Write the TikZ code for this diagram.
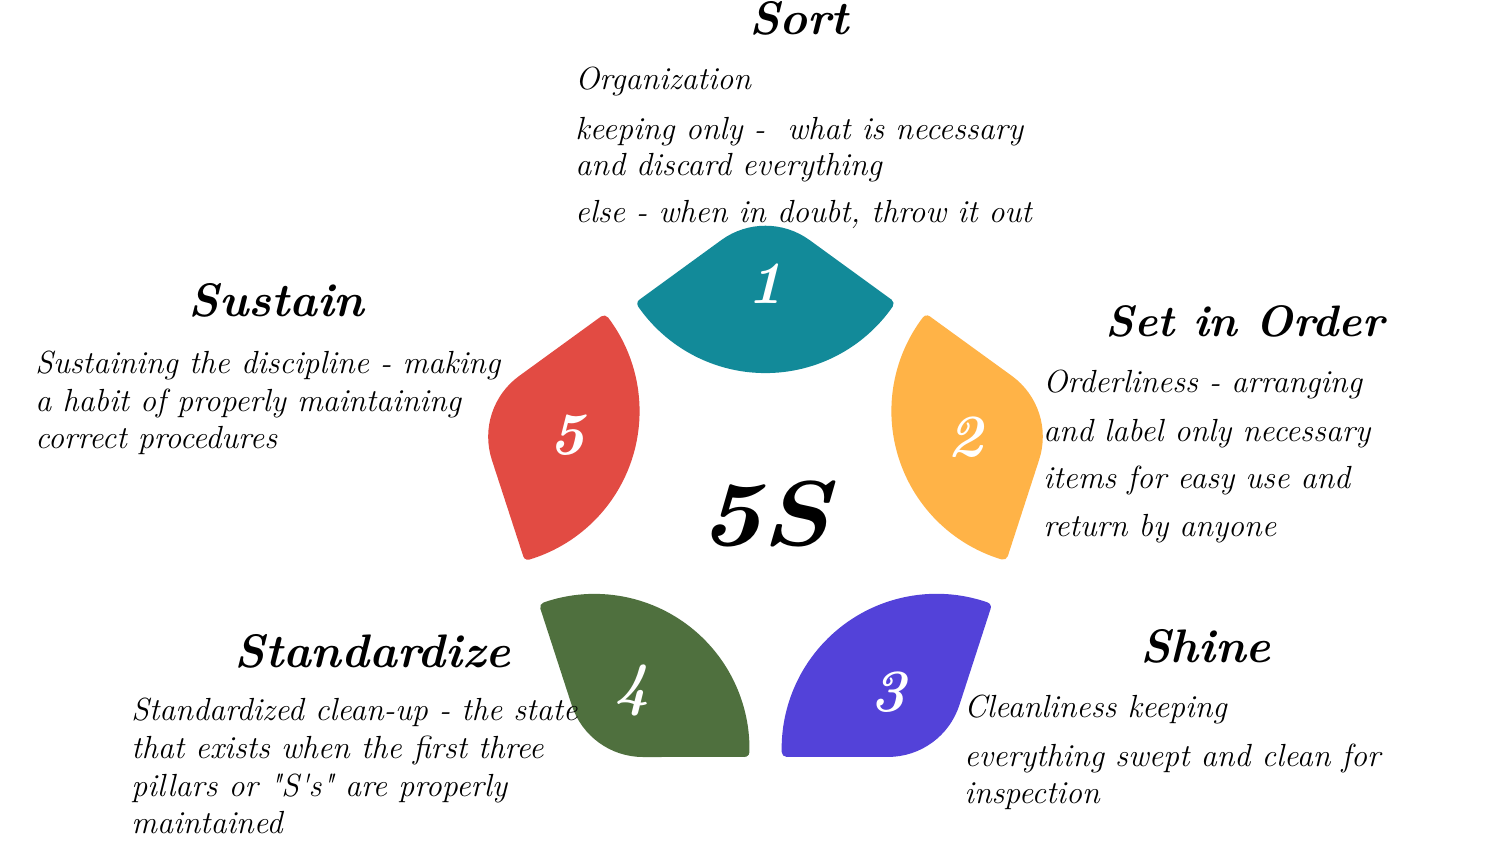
\documentclass[tikz,border=0pt]{standalone}
\usepackage{fontspec}
\usetikzlibrary{calc}
\definecolor{pteal}{RGB}{18,138,153}
\definecolor{porange}{RGB}{255,179,71}
\definecolor{ppurple}{RGB}{83,66,217}
\definecolor{pgreen}{RGB}{79,112,62}
\definecolor{pred}{RGB}{226,75,67}
\newcommand\sdq{\XeTeXglyph\XeTeXglyphindex "quotedbl"\relax}
\newcommand\ssq{\XeTeXglyph\XeTeXglyphindex "quotesingle"\relax}
\tikzset{
  body/.style={anchor=base west, inner sep=0pt, font=\fontsize{16}{19}\selectfont\itshape},
  ttl/.style={anchor=base, inner sep=0pt, font=\fontsize{23.5}{28}\selectfont\bfseries\itshape},
  digit/.style={inner sep=0pt, text=white, font=\fontsize{30}{30}\selectfont\bfseries\itshape},
  petal/.style={fill=#1, draw=#1, line width=5pt, line join=round}
}
\begin{document}
\begin{tikzpicture}[x=0.5pt,y=0.5pt]
\useasboundingbox (0,0) rectangle (1487,841);
\fill[white] (0,0) rectangle (1487,841);
\foreach \vx/\vy/\rot/\c in {765.5/633/0/pteal, 1056/433/-72/porange, 942.5/84/-144/ppurple, 588.5/84/144/pgreen, 475/433/72/pred}{
  \begin{scope}[shift={(\vx,\vy)}, rotate=\rot]
    \filldraw[petal=\c] (-123.1,-95.7) -- (-41.2,-36.1)
      arc[start angle=126, end angle=54, radius=70]
      -- (123.1,-95.7)
      arc[start angle=-34.8, end angle=-145.2, radius=150] -- cycle;
  \end{scope}
}
% numbers
\node[digit] (n1) at (765,557) {1};
\node[digit] (n2) at (965,404) {2};
\node[digit] (n3) at (888,149) {3};
\node[digit] (n4) at (632,151) {4};
\node[digit] (n5) at (567,406) {5};
\node[inner sep=0pt, font=\fontsize{46}{46}\selectfont\bfseries\itshape] (fives) at (765,327) {\scalebox{1.15}[1]{5S}};
% titles
\node[ttl] (tsort) at (799,806) {Sort};
\node[ttl, font=\fontsize{22}{26}\selectfont\bfseries\itshape] (tset) at (1245,504) {Set in Order};
\node[ttl] (tshine) at (1205.5,179) {Shine};
\node[ttl] (tstd) at (372.5,174) {Standardize};
\node[ttl] (tsus) at (276.5,524) {Sustain};
% Sort
\node[body] (s1) at (575,751) {Organization};
\node[body] (s2) at (575,701) {keeping only -~ what is necessary};
\node[body] (s3) at (575,665) {and discard everything};
\node[body] (s4) at (575,618) {else - when in doubt, throw it out};
% Set in Order
\node[body] (o1) at (1043,448) {Orderliness - arranging};
\node[body] (o2) at (1043,399) {and label only necessary};
\node[body] (o3) at (1043,352) {items for easy use and};
\node[body] (o4) at (1043,304) {return by anyone};
% Shine
\node[body] (h1) at (964,124) {Cleanliness keeping};
\node[body] (h2) at (964,75) {everything swept and clean for};
\node[body] (h3) at (964,38) {inspection};
% Standardize
\node[body] (d1) at (131,121) {Standardized clean-up - the state};
\node[body] (d2) at (131,83) {that exists when the first three};
\node[body] (d3) at (131,45) {pillars or \sdq S\ssq s\sdq{} are properly};
\node[body] (d4) at (131,8) {maintained};
% Sustain
\node[body] (u1) at (35,467) {Sustaining the discipline - making};
\node[body] (u2) at (35,429) {a habit of properly maintaining};
\node[body] (u3) at (35,392) {correct procedures};
\end{tikzpicture}
\end{document}
